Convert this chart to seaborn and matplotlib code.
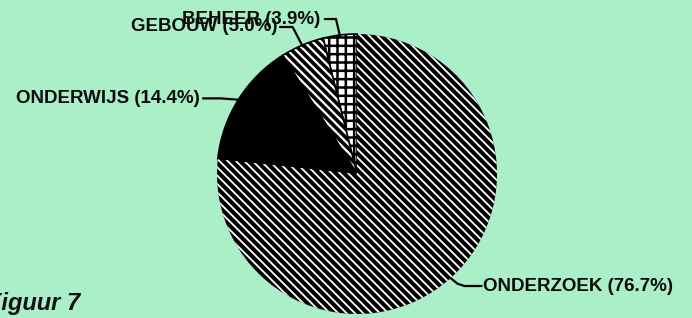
import matplotlib
matplotlib.use("Agg")
import matplotlib.pyplot as plt
import seaborn as sns
import numpy as np

# kostenverdeling (percentages)
categories = ["BEHEER", "GEBOUW", "ONDERWIJS", "ONDERZOEK"]
shares = [3.9, 5.0, 14.4, 76.7]
caption = "Figuur 7"

sns.set_theme(style="white")
plt.rcParams["font.family"] = ["Liberation Sans", "DejaVu Sans"]
plt.rcParams["hatch.linewidth"] = 1.3

bg = "#abefc8"
fig = plt.figure(figsize=(6.92, 3.18), dpi=100, facecolor=bg)
ax = fig.add_axes([217 / 692, 4 / 318, 280 / 692, 280 / 318])
ax.set_facecolor(bg)

wedges, _ = ax.pie(shares, startangle=90, counterclock=True, radius=1,
                   colors=["white", "white", "black", "black"],
                   wedgeprops=dict(edgecolor="black", linewidth=1.2))

# arceringen zoals in het origineel
wedges[0].set_hatch("++")
wedges[1].set_hatch("\\\\\\\\")
if hasattr(wedges[1], "set_hatch_linewidth"):
    wedges[1].set_hatch_linewidth(2.6)
    wedges[0].set_hatch_linewidth(1.8)
wedges[3].set_edgecolor("white")
wedges[3].set_linewidth(0)
wedges[3].set_hatch("\\\\\\\\")

ax.set_xlim(-1, 1)
ax.set_ylim(-1, 1)
ax.axis("off")

# labels met verbindingslijnen (posities in data-eenheden)
label_style = dict(fontsize=13.5, fontweight="bold", color="#0a0a0a", clip_on=False)
cum = np.cumsum([0] + shares)
mid_angles = [90 + (cum[i] + shares[i] / 2) * 3.6 for i in range(len(shares))]

def edge_point(angle_deg, r=1.0):
    a = np.deg2rad(angle_deg)
    return r * np.cos(a), r * np.sin(a)

lbl = [f"{c} ({s}%)" for c, s in zip(categories, shares)]

# BEHEER
ex, ey = edge_point(mid_angles[0], 0.99)
ax.plot([-0.23, -0.15, ex], [1.107, 1.107, ey], color="black", lw=1.6, clip_on=False)
ax.text(-0.26, 1.107, lbl[0], ha="right", va="center", **label_style)

# GEBOUW
ex, ey = edge_point(mid_angles[1], 0.99)
ax.plot([-0.55, -0.46, ex], [1.05, 1.05, ey], color="black", lw=1.6, clip_on=False)
ax.text(-0.57, 1.057, lbl[1], ha="right", va="center", **label_style)

# ONDERWIJS
ex, ey = edge_point(mid_angles[2], 1.0)
ax.plot([-1.10, -0.97, ex], [0.54, 0.54, ey], color="black", lw=1.6, clip_on=False)
ax.text(-1.12, 0.536, lbl[2], ha="right", va="center", **label_style)

# ONDERZOEK
ex, ey = edge_point(mid_angles[3], 1.0)
ax.plot([ex, ex + 0.05, ex + 0.1, 0.89], [ey, ey - 0.04, -0.80, -0.80],
        color="black", lw=1.6, clip_on=False)
ax.text(0.90, -0.807, lbl[3], ha="left", va="center", **label_style)

fig.text(-13 / 692, 8 / 318, caption, fontsize=17, fontstyle="italic",
         fontweight="bold", color="#111111")

fig.savefig("out.png", dpi=100, facecolor=bg)
